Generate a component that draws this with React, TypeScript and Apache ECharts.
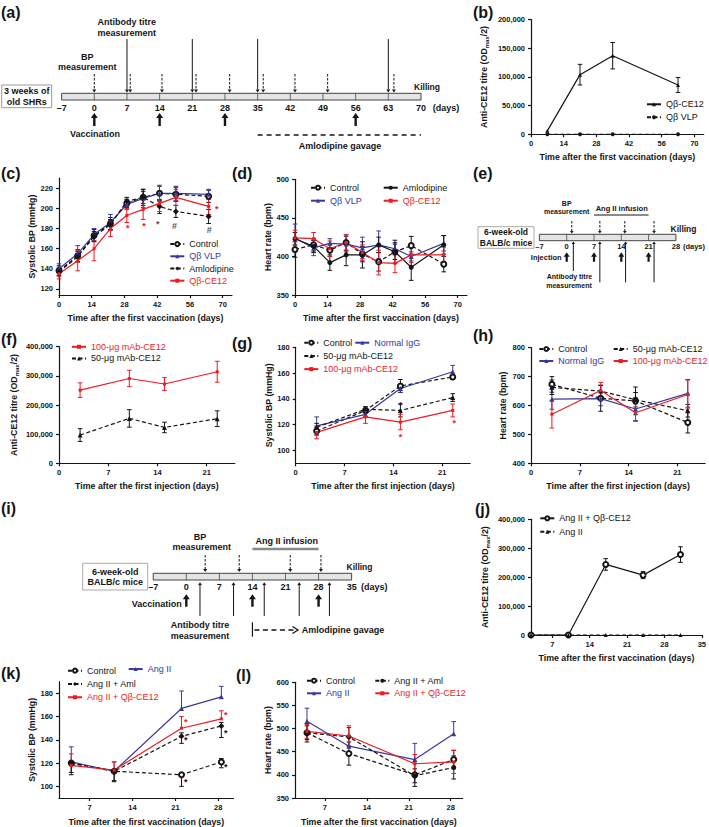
import React, { useEffect, useRef } from "react";
import * as echarts from "echarts";

const FONT = '"Liberation Sans", Arial, Helvetica, sans-serif';
const INK = "#151515";
const BLUE = "#38399a";
const RED = "#ec1c24";

// ---------------- timelines (days) ----------------
const tlA_days = [-7, 0, 7, 14, 21, 28, 35, 42, 49, 56, 63, 70];
const tlA_bp = [0, 7.7, 14.5, 21.8, 29, 36.2, 43, 50, 64.2];
const tlA_titre = [7, 21, 35, 63];
const tlA_vacc = [0, 14, 28, 56];
const tlA_aml = [35, 70];

const tlE_days = [-7, 0, 7, 14, 21, 28];
const tlE_bp = [1.3, 8.5, 14.9, 22.4];
const tlE_inject = [0, 7, 14, 21];
const tlE_titre = [1.7, 8.5, 15.1, 22.4];
const tlE_ang = [7, 21];

const tlI_days = [-7, 0, 7, 14, 21, 28, 35];
const tlI_bp = [4, 11.2, 22, 28.5];
const tlI_vacc = [0, 14, 28];
const tlI_titre = [2.9, 10, 16.5, 23.9, 30.3];
const tlI_ang = [14, 28];

// ---------------- (b) ----------------
const bDays = [7, 21, 35, 63];
const bCE12 = [6000, 104000, 137000, 86000];
const bCE12Err = [0, 18000, 23000, 13000];
const bVLP = [0, 0, 0, 0];
const bVLPErr = [0, 0, 0, 0];

// ---------------- (c) ----------------
const cDays = [0, 8, 15, 22, 29, 36, 43, 50, 64];
const cControl = [138, 153, 173, 185, 205, 211, 215, 214, 212];
const cControlErr = [5, 6, 6, 6, 4, 6, 7, 7, 6];
const cVLP = [140, 155, 174, 186, 204, 210, 215, 215, 214];
const cVLPErr = [5, 8, 6, 8, 5, 9, 8, 7, 5];
const cAml = [137, 152, 172, 184, 207, 211, 202, 197, 192];
const cAmlErr = [4, 5, 5, 5, 4, 8, 7, 6, 7];
const cCE12 = [135, 148, 160, 180, 193, 199, 205, 211, 202];
const cCE12Err = [5, 10, 12, 8, 7, 10, 8, 8, 8];
const cStarsRed = [[29.4, 180.3], [36.4, 182.6], [67.5, 199]];
const cStarsBlack = [[42.2, 184.2]];
const cHash = [[49.4, 182.6], [64.3, 178.6]];

// ---------------- (d) ----------------
const dDays = [0, 8, 15, 22, 29, 36, 43, 50, 64];
const dControl = [409, 415, 408, 418, 403, 393, 406, 414, 390];
const dControlErr = [10, 8, 8, 10, 10, 12, 10, 12, 10];
const dVLP = [424, 411, 417, 416, 411, 415, 410, 400, 417];
const dVLPErr = [18, 10, 6, 10, 14, 18, 8, 6, 10];
const dAml = [423, 413, 392, 402, 402, 415, 406, 386, 415];
const dAmlErr = [8, 8, 10, 14, 17, 10, 15, 17, 12];
const dCE12 = [424, 423, 410, 418, 405, 392, 391, 402, 402];
const dCE12Err = [10, 8, 10, 10, 10, 16, 12, 10, 10];

// ---------------- (f) ----------------
const fDays = [3, 10, 15, 22.5];
const f100 = [251000, 291000, 272000, 314000];
const f100Err = [25000, 28000, 22000, 36000];
const f50 = [97000, 154000, 123000, 153000];
const f50Err = [22000, 30000, 18000, 27000];

// ---------------- (g) ----------------
const gDays = [3, 10, 15, 22.5];
const gControl = [115, 131, 150, 157];
const gControlErr = [3, 2, 5, 2];
const gIgG = [119, 128, 148, 161];
const gIgGErr = [7, 2, 3, 5];
const g50 = [118, 132, 131, 141];
const g50Err = [3, 2, 5, 3];
const g100 = [114, 126, 122, 131];
const g100Err = [5, 5, 6, 5];
const gStarsBlack = [[15, 135.4]];
const gStarsRed = [[15, 110.3], [22.7, 121]];

// ---------------- (h) ----------------
const hDays = [3, 10, 15, 22.5];
const hControl = [673, 625, 616, 541];
const hControlErr = [27, 45, 48, 36];
const hIgG = [622, 624, 588, 642];
const hIgGErr = [35, 25, 40, 48];
const h50 = [663, 650, 620, 582];
const h50Err = [25, 20, 25, 22];
const h100 = [570, 652, 575, 638];
const h100Err = [48, 28, 30, 50];

// ---------------- (j) ----------------
const jDays = [3, 10, 17, 24, 31];
const jCE12 = [0, 0, 244000, 207000, 278000];
const jCE12Err = [0, 0, 20000, 12000, 27000];
const jAng = [0, 0, 0, 0, 0];
const jAngErr = [0, 0, 0, 0, 0];

// ---------------- (k) ----------------
const kDays = [4, 11, 22, 28.5];
const kControl = [120, 113, 110, 121];
const kControlLo = [10, 9, 10, 5];
const kControlHi = [0, 0, 0, 3];
const kAng = [121, 113, 167, 177];
const kAngLo = [0, 0, 0, 0];
const kAngHi = [13, 8, 15, 9];
const kAml = [120, 113, 143, 152];
const kAmlLo = [8, 8, 6, 10];
const kAmlHi = [0, 0, 3, 3];
const kCE12 = [118, 114, 150, 158];
const kCE12Lo = [0, 0, 0, 0];
const kCE12Hi = [10, 7, 10, 7];
const kStarsRed = [[22.7, 155], [29.2, 161.5]];
const kStarsBlack = [[22.7, 139.5], [29.2, 145.5], [22.7, 104], [29.2, 117]];

// ---------------- (l) ----------------
const lDays = [4, 11, 22, 28.5];
const lControl = [491, 446, 400, 433];
const lControlErr = [20, 25, 25, 20];
const lAng = [516, 462, 433, 489];
const lAngLo = [0, 0, 0, 0];
const lAngHi = [28, 0, 35, 26];
const lAml = [491, 482, 398, 416];
const lAmlErr = [15, 20, 15, 25];
const lCE12 = [494, 484, 424, 428];
const lCE12Err = [15, 22, 20, 25];

// ---------------- helpers ----------------
type Ser = {
  id: string; label: string; x: number[]; y: number[]; lo: number[]; hi: number[];
  color: string; dash: boolean; symbol: string; size: number;
};
const ser = (id: string, label: string, x: number[], y: number[], lo: number[], hi: number[],
  color: string, dash: boolean, symbol: string, size = 5): Ser =>
  ({ id, label, x, y, lo, hi, color, dash, symbol, size });

const TITRE = "{a|Anti-CE12 titre (OD}{s|max}{a|/2)}";
const XV = "Time after the first vaccination (days)";
const XI = "Time after the first injection (days)";

const panels: any[] = [
  {
    grid: { left: 531, top: 19.6, width: 172.7, height: 114.7 },
    x: { min: 0, max: 74, ticks: [0, 14, 28, 42, 56, 70] },
    y: { min: 0, max: 200000, ticks: [0, 50000, 100000, 150000, 200000] },
    xName: XV, yName: TITRE, xGap: 18, yGap: 41.5,
    series: [
      ser("b|ce12", "Qβ-CE12", bDays, bCE12, bCE12Err, bCE12Err, INK, false, "triangle", 4),
      ser("b|vlp", "Qβ VLP", bDays, bVLP, bVLPErr, bVLPErr, INK, true, "circle", 4),
    ],
    legends: [{ left: 646, top: 97.8, lh: 13, ids: ["b|ce12", "b|vlp"] }],
    marks: [],
  },
  {
    grid: { left: 59, top: 178.2, width: 173, height: 116.8 },
    x: { min: 0, max: 74, ticks: [0, 14, 28, 42, 56, 70] },
    y: { min: 114, max: 230, ticks: [120, 140, 160, 180, 200, 220] },
    xName: XV, yName: "Systolic BP (mmHg)", xGap: 18, yGap: 23,
    series: [
      ser("c|control", "Control", cDays, cControl, cControlErr, cControlErr, INK, true, "emptyCircle", 5),
      ser("c|vlp", "Qβ VLP", cDays, cVLP, cVLPErr, cVLPErr, BLUE, false, "triangle", 5),
      ser("c|aml", "Amlodipine", cDays, cAml, cAmlErr, cAmlErr, INK, true, "diamond", 6),
      ser("c|ce12", "Qβ-CE12", cDays, cCE12, cCE12Err, cCE12Err, RED, false, "rect", 3),
    ],
    legends: [{ left: 169.3, top: 238, lh: 12.2, ids: ["c|control", "c|vlp", "c|aml", "c|ce12"] }],
    marks: [
      { pts: cStarsRed, text: "*", color: RED },
      { pts: cStarsBlack, text: "*", color: "#555" },
      { pts: cHash, text: "#", color: "#555" },
    ],
  },
  {
    grid: { left: 295, top: 179.3, width: 172, height: 115.7 },
    x: { min: 0, max: 74, ticks: [0, 14, 28, 42, 56, 70] },
    y: { min: 350, max: 500, ticks: [350, 400, 450, 500] },
    xName: XV, yName: "Heart rate (bpm)", xGap: 18, yGap: 21,
    series: [
      ser("d|control", "Control", dDays, dControl, dControlErr, dControlErr, INK, true, "emptyCircle", 5),
      ser("d|vlp", "Qβ VLP", dDays, dVLP, dVLPErr, dVLPErr, BLUE, false, "triangle", 5),
      ser("d|aml", "Amlodipine", dDays, dAml, dAmlErr, dAmlErr, INK, false, "circle", 5),
      ser("d|ce12", "Qβ-CE12", dDays, dCE12, dCE12Err, dCE12Err, RED, false, "rect", 3),
    ],
    legends: [
      { left: 310, top: 181.2, lh: 13, ids: ["d|control", "d|vlp"] },
      { left: 382.7, top: 181.2, lh: 13, ids: ["d|aml", "d|ce12"] },
    ],
    marks: [],
  },
  {
    grid: { left: 59, top: 346.7, width: 175.8, height: 116.6 },
    x: { min: 0, max: 25, ticks: [0, 7, 14, 21] },
    y: { min: 0, max: 400000, ticks: [0, 100000, 200000, 300000, 400000] },
    xName: XI, yName: TITRE, xGap: 18, yGap: 39.5,
    series: [
      ser("f|100", "100-μg mAb-CE12", fDays, f100, f100Err, f100Err, RED, false, "rect", 3),
      ser("f|50", "50-μg mAb-CE12", fDays, f50, f50Err, f50Err, INK, true, "triangle", 5),
    ],
    legends: [{ left: 71, top: 341, lh: 11.6, ids: ["f|100", "f|50"] }],
    marks: [],
  },
  {
    grid: { left: 295.7, top: 347.3, width: 174.5, height: 116 },
    x: { min: 0, max: 25, ticks: [0, 7, 14, 21] },
    y: { min: 90, max: 180, ticks: [100, 120, 140, 160, 180] },
    xName: XI, yName: "Systolic BP (mmHg)", xGap: 18, yGap: 22,
    series: [
      ser("g|control", "Control", gDays, gControl, gControlErr, gControlErr, INK, true, "emptyCircle", 5),
      ser("g|igg", "Normal IgG", gDays, gIgG, gIgGErr, gIgGErr, BLUE, false, "triangle", 5),
      ser("g|50", "50-μg mAb-CE12", gDays, g50, g50Err, g50Err, INK, true, "triangle", 5),
      ser("g|100", "100-μg mAb-CE12", gDays, g100, g100Err, g100Err, RED, false, "rect", 3),
    ],
    legends: [
      { left: 303.3, top: 336.1, lh: 13.2, ids: ["g|control", "g|50", "g|100"] },
      { left: 354.3, top: 336.1, lh: 13.2, ids: ["g|igg"] },
    ],
    marks: [
      { pts: gStarsBlack, text: "*", color: INK },
      { pts: gStarsRed, text: "*", color: RED },
    ],
  },
  {
    grid: { left: 531, top: 347.7, width: 174.2, height: 115.6 },
    x: { min: 0, max: 25, ticks: [0, 7, 14, 21] },
    y: { min: 400, max: 800, ticks: [400, 500, 600, 700, 800] },
    xName: XI, yName: "Heart rate (bpm)", xGap: 18, yGap: 23.5,
    series: [
      ser("h|control", "Control", hDays, hControl, hControlErr, hControlErr, INK, true, "emptyCircle", 5),
      ser("h|igg", "Normal IgG", hDays, hIgG, hIgGErr, hIgGErr, BLUE, false, "triangle", 5),
      ser("h|50", "50-μg mAb-CE12", hDays, h50, h50Err, h50Err, INK, true, "triangle", 5),
      ser("h|100", "100-μg mAb-CE12", hDays, h100, h100Err, h100Err, RED, false, "rect", 3),
    ],
    legends: [
      { left: 538.3, top: 343, lh: 12, ids: ["h|control", "h|igg"] },
      { left: 612.7, top: 343, lh: 12, ids: ["h|50", "h|100"] },
    ],
    marks: [],
  },
  {
    grid: { left: 531, top: 519.3, width: 174, height: 115.7 },
    x: { min: 3, max: 35, ticks: [7, 14, 21, 28, 35] },
    y: { min: 0, max: 400000, ticks: [0, 100000, 200000, 300000, 400000] },
    xName: XV, yName: TITRE, xGap: 18, yGap: 40,
    series: [
      ser("j|ce12", "Ang II + Qβ-CE12", jDays, jCE12, jCE12Err, jCE12Err, INK, false, "emptyCircle", 5),
      ser("j|ang", "Ang II", jDays, jAng, jAngErr, jAngErr, INK, true, "triangle", 4),
    ],
    legends: [{ left: 539.3, top: 511.6, lh: 13.4, ids: ["j|ce12", "j|ang"] }],
    marks: [],
  },
  {
    grid: { left: 59, top: 681.7, width: 174.6, height: 116.7 },
    x: { min: 2, max: 30.5, ticks: [7, 14, 21, 28] },
    y: { min: 90, max: 190, ticks: [100, 120, 140, 160, 180] },
    xName: XV, yName: "Systolic BP (mmHg)", xGap: 19, yGap: 23,
    series: [
      ser("k|control", "Control", kDays, kControl, kControlLo, kControlHi, INK, true, "emptyCircle", 5),
      ser("k|ang", "Ang II", kDays, kAng, kAngLo, kAngHi, BLUE, false, "triangle", 5),
      ser("k|aml", "Ang II + Aml", kDays, kAml, kAmlLo, kAmlHi, INK, true, "diamond", 6),
      ser("k|ce12", "Ang II + Qβ-CE12", kDays, kCE12, kCE12Lo, kCE12Hi, RED, false, "rect", 3),
    ],
    legends: [
      { left: 67, top: 664, lh: 13.3, ids: ["k|control", "k|aml", "k|ce12"] },
      { left: 127.7, top: 662.4, lh: 13.3, ids: ["k|ang"] },
    ],
    marks: [
      { pts: kStarsRed, text: "*", color: RED },
      { pts: kStarsBlack, text: "*", color: INK },
    ],
  },
  {
    grid: { left: 295, top: 682.3, width: 167.7, height: 116 },
    x: { min: 2, max: 30, ticks: [7, 14, 21, 28] },
    y: { min: 350, max: 600, ticks: [350, 400, 450, 500, 550, 600] },
    xName: XV, yName: "Heart rate (bpm)", xGap: 19, yGap: 23,
    series: [
      ser("l|control", "Control", lDays, lControl, lControlErr, lControlErr, INK, true, "emptyCircle", 5),
      ser("l|ang", "Ang II", lDays, lAng, lAngLo, lAngHi, BLUE, false, "triangle", 5),
      ser("l|aml", "Ang II + Aml", lDays, lAml, lAmlErr, lAmlErr, INK, true, "circle", 5),
      ser("l|ce12", "Ang II + Qβ-CE12", lDays, lCE12, lCE12Err, lCE12Err, RED, false, "rect", 3),
    ],
    legends: [
      { left: 306, top: 674.4, lh: 12.6, ids: ["l|control", "l|ang"] },
      { left: 374.3, top: 674.4, lh: 12.6, ids: ["l|aml", "l|ce12"] },
    ],
    marks: [],
  },
];

const panelLabels: [string, number, number][] = [
  ["(a)", 1, 12], ["(b)", 473, 12], ["(c)", 1, 173], ["(d)", 232, 173], ["(e)", 473, 173],
  ["(f)", 1, 339], ["(g)", 232, 343], ["(h)", 473, 335], ["(i)", 1, 508], ["(j)", 475, 509],
  ["(k)", 1, 673], ["(l)", 236, 675],
];

function buildGraphics() {
  const G: any[] = [];
  const txt = (text: string, x: number, y: number, size: number, align = "center", weight = "bold", color = INK) =>
    G.push({ type: "text", x, y, silent: true, style: { text, fontSize: size, fontWeight: weight, fontFamily: FONT, fill: color, align, verticalAlign: "middle" } });
  const ln = (x1: number, y1: number, x2: number, y2: number, w = 1, dash: any = null, color = INK) =>
    G.push({ type: "line", silent: true, shape: { x1, y1, x2, y2 }, style: { stroke: color, lineWidth: w, lineDash: dash || undefined } });
  const poly = (pts: number[][], fill = INK) => G.push({ type: "polygon", silent: true, shape: { points: pts }, style: { fill } });
  const rect = (x: number, y: number, w: number, h: number, fill: string, stroke: string, lw = 1) =>
    G.push({ type: "rect", silent: true, shape: { x, y, width: w, height: h }, style: { fill, stroke, lineWidth: lw } });
  const downArrow = (x: number, y1: number, y2: number, dashed: boolean, hw = 2, hh = 3) => {
    ln(x, y1, x, y2 - hh, 1, dashed ? [2.5, 1.5] : null);
    poly([[x - hw, y2 - hh], [x + hw, y2 - hh], [x, y2]]);
  };
  const upThin = (x: number, yTop: number, yBot: number, hw = 2, hh = 3) => {
    ln(x, yTop + hh, x, yBot, 1);
    poly([[x - hw, yTop + hh], [x + hw, yTop + hh], [x, yTop]]);
  };
  const upThick = (x: number, yTop: number, yBot: number, hw = 3.5, hh = 5, sw = 1.2) =>
    poly([[x, yTop], [x + hw, yTop + hh], [x + sw, yTop + hh], [x + sw, yBot], [x - sw, yBot], [x - sw, yTop + hh], [x - hw, yTop + hh]]);
  const dayLabel = (d: number) => (d < 0 ? "–" + Math.abs(d) : String(d));

  panelLabels.forEach(([t, x, y]) => txt(t, x, y, 16, "left"));

  // ----- (a) -----
  const ax = (d: number) => 94.3 + d * 4.667;
  rect(ax(-7), 93.3, ax(70) - ax(-7), 6.7, "#e4e4e4", "#444", 1);
  tlA_days.slice(1, -1).forEach((d) => ln(ax(d), 93.3, ax(d), 100, 0.8, null, "#444"));
  tlA_days.forEach((d) => txt(dayLabel(d), ax(d), 107.5, 9));
  txt("(days)", 446, 107.5, 9);
  rect(1.7, 85, 50, 22.7, "#fff", "#999", 1);
  txt("3 weeks of", 26.7, 90.8, 9);
  txt("old SHRs", 26.7, 101.8, 9);
  txt("Killing", 427, 87, 8.5);
  tlA_bp.forEach((d) => downArrow(ax(d), 74, 92.5, true));
  tlA_titre.forEach((d) => downArrow(ax(d), 39, 92.5, false));
  txt("Antibody titre", 126.7, 21.5, 9);
  txt("measurement", 126.7, 32.5, 9);
  txt("BP", 87.3, 56.5, 9);
  txt("measurement", 87.3, 66.5, 9);
  tlA_vacc.forEach((d) => upThick(ax(d), 113, 126));
  txt("Vaccination", 95, 134, 9);
  ln(ax(tlA_aml[0]), 135, ax(tlA_aml[1]), 135, 1.5, [5, 4]);
  txt("Amlodipine gavage", 340, 145.7, 9);

  // ----- (e) -----
  const ex = (d: number) => 566.7 + d * 3.9;
  rect(ex(-7), 234.3, ex(28) - ex(-7), 6.4, "#e4e4e4", "#444", 1);
  tlE_days.slice(1, -1).forEach((d) => ln(ex(d), 234.3, ex(d), 240.7, 0.8, null, "#444"));
  tlE_days.forEach((d) => txt(dayLabel(d), ex(d), 246.5, 7.5));
  txt("(days)", 694, 246.5, 7.5);
  rect(478, 226.7, 56, 21.6, "#fff", "#aaa", 1);
  txt("6-week-old", 506, 232.3, 8.5);
  txt("BALB/c mice", 506, 242.5, 8.5);
  txt("Killing", 683.5, 229.3, 8.5);
  txt("BP", 566.7, 203.3, 7);
  txt("measurement", 566.7, 211.7, 7);
  txt("Ang II infusion", 621.7, 208.3, 7.5);
  ln(ex(tlE_ang[0]), 215, ex(tlE_ang[1]), 215, 2, null, "#8a8a8a");
  tlE_bp.forEach((d) => downArrow(ex(d), 221, 233.5, true, 1.8, 2.5));
  tlE_inject.forEach((d) => upThick(ex(d), 252.3, 261.7, 3, 4.5, 1.1));
  txt("Injection", 561.7, 257.7, 7.5, "right");
  tlE_titre.forEach((d, i) => upThin(ex(d), 241.5, i === 0 ? 271 : 282.3, 1.8, 2.5));
  txt("Antibody titre", 569.5, 276.7, 7);
  txt("measurement", 569, 285.7, 7);

  // ----- (i) -----
  const ix = (d: number) => 186.3 + d * 4.724;
  txt("BP", 200, 536.7, 9);
  txt("measurement", 201.7, 546.7, 9);
  txt("Ang II infusion", 286.7, 540.5, 9);
  ln(ix(tlI_ang[0]), 549, ix(tlI_ang[1]), 549, 2.5, null, "#8a8a8a");
  rect(ix(-7), 573.3, ix(35) - ix(-7), 6.7, "#e4e4e4", "#444", 1);
  tlI_days.slice(1, -1).forEach((d) => ln(ix(d), 573.3, ix(d), 580, 0.8, null, "#444"));
  tlI_days.forEach((d) => txt(dayLabel(d), ix(d), 586.7, 9));
  txt("(days)", 374.2, 586.7, 9);
  rect(82.7, 563.3, 65, 26.7, "#fff", "#aaa", 1);
  txt("6-week-old", 115.2, 571.7, 9);
  txt("BALB/c mice", 115.2, 582.3, 9);
  txt("Killing", 359.5, 566.7, 8.5);
  tlI_bp.forEach((d) => downArrow(ix(d), 555, 572, true));
  tlI_vacc.forEach((d) => upThick(ix(d), 594.3, 606.7));
  txt("Vaccination", 181.7, 604.3, 9, "right");
  tlI_titre.forEach((d) => upThin(ix(d), 582.3, 616));
  txt("Antibody titre", 200, 625, 9);
  txt("measurement", 200, 635.7, 9);
  ln(ix(14), 622.3, ix(14), 636.7, 1.2);
  ln(ix(14) + 2, 630, 296, 630, 1.3, [5, 3.5]);
  G.push({ type: "polyline", silent: true, shape: { points: [[292.5, 626.5], [298, 630], [292.5, 633.5]] }, style: { stroke: INK, lineWidth: 1.3, fill: null } });
  txt("Amlodipine gavage", 301.7, 630, 9, "left");
  return G;
}

const errRender = (color: string) => (params: any, api: any) => {
  const x = api.value(0), y = api.value(1), lo = api.value(2), hi = api.value(3);
  const p = api.coord([x, y]);
  const children: any[] = [];
  const cap = 2.3;
  const add = (v: number) => {
    const q = api.coord([x, v]);
    children.push({ type: "line", shape: { x1: p[0], y1: p[1], x2: q[0], y2: q[1] }, style: { stroke: color, lineWidth: 1 } });
    children.push({ type: "line", shape: { x1: q[0] - cap, y1: q[1], x2: q[0] + cap, y2: q[1] }, style: { stroke: color, lineWidth: 1 } });
  };
  if (hi > 0) add(y + hi);
  if (lo > 0) add(y - lo);
  return { type: "group", children };
};

const markRender = (text: string, color: string) => (params: any, api: any) => {
  const p = api.coord([api.value(0), api.value(1)]);
  return {
    type: "text", x: p[0], y: p[1],
    style: { text, fill: color, fontSize: 9, fontWeight: "bold", fontFamily: FONT, align: "center", verticalAlign: "middle" },
  };
};

function buildOption() {
  const grid: any[] = [], xAxis: any[] = [], yAxis: any[] = [], series: any[] = [], legend: any[] = [];
  const labelMap: Record<string, string> = {};
  const colorMap: Record<string, string> = {};
  const tick = { fontSize: 7.5, fontWeight: "bold", fontFamily: FONT, color: INK };
  const nameStyle = {
    fontSize: 8.8, fontWeight: "bold", fontFamily: FONT, color: INK,
    rich: {
      a: { fontSize: 8.8, fontWeight: "bold", fontFamily: FONT, color: INK, lineHeight: 12 },
      s: { fontSize: 6, fontWeight: "bold", fontFamily: FONT, color: INK, lineHeight: 12, verticalAlign: "bottom" },
    },
  };
  panels.forEach((p, i) => {
    grid.push({ ...p.grid, containLabel: false });
    const line = { show: true, onZero: false, lineStyle: { color: INK, width: 1.2 } };
    xAxis.push({
      type: "value", gridIndex: i, min: p.x.min, max: p.x.max,
      axisLine: line, splitLine: { show: false },
      axisTick: { show: true, length: 3, customValues: p.x.ticks, lineStyle: { color: INK, width: 1.2 } },
      axisLabel: { customValues: p.x.ticks, margin: 5, ...tick },
      name: p.xName, nameLocation: "middle", nameGap: p.xGap, nameTextStyle: nameStyle,
    });
    yAxis.push({
      type: "value", gridIndex: i, min: p.y.min, max: p.y.max,
      axisLine: line, splitLine: { show: false },
      axisTick: { show: true, length: 3, customValues: p.y.ticks, lineStyle: { color: INK, width: 1.2 } },
      axisLabel: { customValues: p.y.ticks, margin: 6, ...tick, formatter: (v: number) => v.toLocaleString("en-US") },
      name: p.yName, nameLocation: "middle", nameGap: p.yGap, nameRotate: 90, nameTextStyle: nameStyle,
    });
    p.series.forEach((s: Ser) => {
      labelMap[s.id] = s.label;
      colorMap[s.id] = s.color;
      series.push({
        type: "line", name: s.id, xAxisIndex: i, yAxisIndex: i,
        data: s.x.map((d, j) => [d, s.y[j]]),
        symbol: s.symbol, symbolSize: s.size, showAllSymbol: true,
        lineStyle: { color: s.color, width: 1.2, type: s.dash ? [4, 2.5] : "solid" },
        itemStyle: { color: s.color },
        z: 4, silent: true,
      });
      series.push({
        type: "custom", name: s.id + "-err", xAxisIndex: i, yAxisIndex: i,
        data: s.x.map((d, j) => [d, s.y[j], s.lo[j], s.hi[j]]),
        encode: { x: 0, y: 1 }, renderItem: errRender(s.color), z: 3, silent: true, clip: false,
      });
    });
    p.marks.forEach((m: any, k: number) => {
      series.push({
        type: "custom", name: `mark-${i}-${k}`, xAxisIndex: i, yAxisIndex: i,
        data: m.pts, encode: { x: 0, y: 1 }, renderItem: markRender(m.text, m.color), z: 5, silent: true, clip: false,
      });
    });
  });
  panels.forEach((p) => {
    p.legends.forEach((lg: any) => {
      legend.push({
        orient: "vertical", left: lg.left, top: lg.top, padding: 0, itemGap: 0,
        itemWidth: 14, itemHeight: 5, selectedMode: false,
        textStyle: { fontSize: 9, fontFamily: FONT, lineHeight: lg.lh, color: INK },
        data: lg.ids.map((id: string) => ({ name: id, textStyle: { color: colorMap[id] } })),
        formatter: (n: string) => labelMap[n] || n,
      });
    });
  });
  return {
    animation: false,
    textStyle: { fontFamily: FONT },
    grid, xAxis, yAxis, series, legend,
    graphic: { elements: buildGraphics() },
  };
}

export default function App() {
  const ref = useRef<HTMLDivElement>(null);
  useEffect(() => {
    if (!ref.current) return;
    const chart = echarts.init(ref.current, null, { renderer: "svg", width: 709, height: 827 });
    chart.setOption(buildOption() as any);
    return () => chart.dispose();
  }, []);
  return (
    <div
      ref={ref}
      style={{ position: "absolute", left: 0, top: 0, width: 709, height: 827, background: "#fff" }}
    />
  );
}
